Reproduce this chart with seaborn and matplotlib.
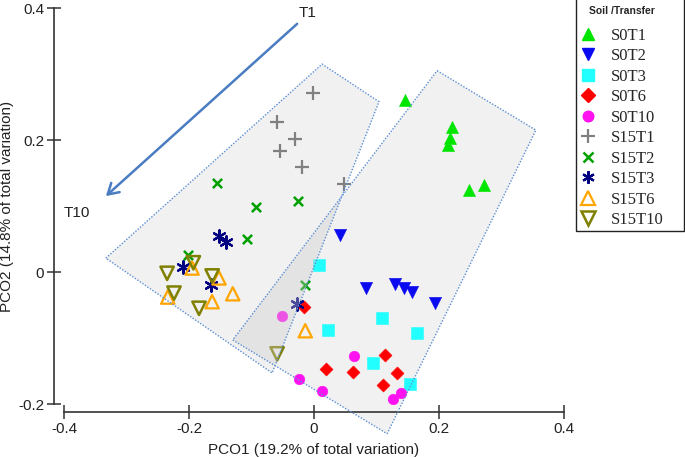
import matplotlib
matplotlib.use("Agg")
import matplotlib.pyplot as plt
import numpy as np
import pandas as pd
import seaborn as sns
from matplotlib.patches import Polygon, Rectangle
from matplotlib.lines import Line2D

# ---------------- data ----------------
group_names = ["S0T1", "S0T2", "S0T3", "S0T6", "S0T10",
               "S15T1", "S15T2", "S15T3", "S15T6", "S15T10"]

s0t1_x = [0.146, 0.221, 0.218, 0.214, 0.248, 0.272]
s0t1_y = [0.261, 0.220, 0.203, 0.192, 0.124, 0.132]
s0t2_x = [0.042, 0.083, 0.130, 0.144, 0.157, 0.194]
s0t2_y = [0.056, -0.024, -0.018, -0.024, -0.030, -0.047]
s0t3_x = [0.008, 0.109, 0.022, 0.165, 0.094, 0.154]
s0t3_y = [0.011, -0.070, -0.088, -0.093, -0.138, -0.170]
s0t6_x = [-0.016, 0.114, 0.019, 0.062, 0.133, 0.110]
s0t6_y = [-0.053, -0.126, -0.147, -0.152, -0.153, -0.171]
s0t10_x = [-0.051, 0.064, -0.024, 0.013, 0.126, 0.139]
s0t10_y = [-0.066, -0.128, -0.162, -0.180, -0.192, -0.184]
s15t1_x = [-0.002, -0.059, -0.030, -0.054, -0.019, 0.048]
s15t1_y = [0.271, 0.227, 0.202, 0.183, 0.159, 0.133]
s15t2_x = [-0.155, -0.093, -0.026, -0.107, -0.202, -0.014]
s15t2_y = [0.135, 0.099, 0.108, 0.050, 0.026, -0.020]
s15t3_x = [-0.152, -0.141, -0.210, -0.165, -0.027]
s15t3_y = [0.055, 0.045, 0.008, -0.020, -0.048]
s15t6_x = [-0.195, -0.152, -0.130, -0.163, -0.234, -0.014]
s15t6_y = [0.006, -0.009, -0.033, -0.045, -0.038, -0.089]
s15t10_x = [-0.193, -0.235, -0.163, -0.224, -0.184, -0.059]
s15t10_y = [0.014, -0.002, -0.006, -0.032, -0.055, -0.124]

# hand-drawn group outlines (data units)
hull_s15 = [(-0.333, 0.021), (0.013, 0.315), (0.104, 0.258), (-0.067, -0.153)]
hull_s0 = [(0.197, 0.305), (0.355, 0.215), (0.117, -0.245), (-0.130, -0.103)]

# transfer arrow T1 -> T10
arrow_start = (-0.027, 0.376)
arrow_end = (-0.333, 0.115)
label_t1 = ("T1", -0.010, 0.392)
label_t10 = ("T10", -0.379, 0.089)

x_ticks = [-0.4, -0.2, 0.0, 0.2, 0.4]
x_tick_labels = ["-0.4", "-0.2", "0", "0.2", "0.4"]
y_ticks = [-0.2, 0.0, 0.2, 0.4]
y_tick_labels = ["-0.2", "0", "0.2", "0.4"]
x_title = "PCO1 (19.2% of total variation)"
y_title = "PCO2 (14.8% of total variation)"
legend_title = "Soil /Transfer"

xs = [s0t1_x, s0t2_x, s0t3_x, s0t6_x, s0t10_x, s15t1_x, s15t2_x, s15t3_x, s15t6_x, s15t10_x]
ys = [s0t1_y, s0t2_y, s0t3_y, s0t6_y, s0t10_y, s15t1_y, s15t2_y, s15t3_y, s15t6_y, s15t10_y]
df = pd.concat([pd.DataFrame({"PCO1": x, "PCO2": y, "group": g})
                for g, x, y in zip(group_names, xs, ys)], ignore_index=True)

# ---------------- styles ----------------
styles = {
    "S0T1":   dict(marker="^", color="#00e600", s=76, filled=True),
    "S0T2":   dict(marker="v", color="#0a0af0", s=78, filled=True),
    "S0T3":   dict(marker="s", color="#22ffff", s=64, filled=True),
    "S0T6":   dict(marker="D", color="#ff0000", s=44, filled=True),
    "S0T10":  dict(marker="o", color="#ff11f0", s=58, filled=True),
    "S15T1":  dict(marker="+", color="#808080", s=92, filled=None, lw=1.6),
    "S15T2":  dict(marker="x", color="#00a000", s=44, filled=None, lw=1.8),
    "S15T3":  dict(marker=(6, 2, 0), color="#000080", s=80, filled=None, lw=1.6),
    "S15T6":  dict(marker="^", color="#ffa500", s=92, filled=False, lw=1.6),
    "S15T10": dict(marker="v", color="#808000", s=92, filled=False, lw=1.8),
}

sns.set_style("ticks")
plt.rcParams["font.family"] = ["Liberation Sans", "DejaVu Sans"]

fig = plt.figure(figsize=(6.85, 4.58), dpi=100)
ax = fig.add_axes([64 / 685, 54 / 458, 500 / 685, 396 / 458])

edge_col = "#5a8ed4"
for hull in (hull_s15, hull_s0):
    ax.add_patch(Polygon(hull, closed=True, facecolor="#f1f1f1", edgecolor="none",
                         zorder=1, clip_on=False))
    ax.add_patch(Polygon(hull, closed=True, facecolor="none", edgecolor=edge_col,
                         linestyle=(0, (1, 1.2)), linewidth=1.0, zorder=5, clip_on=False))

for g in group_names:
    st = styles[g]
    sub = df[df["group"] == g]
    if st["filled"] is True:
        sns.scatterplot(data=sub, x="PCO1", y="PCO2", marker=st["marker"], s=st["s"],
                        color=st["color"], edgecolor=st["color"], linewidth=0.4,
                        ax=ax, legend=False, zorder=3)
    elif st["filled"] is False:
        sns.scatterplot(data=sub, x="PCO1", y="PCO2", marker=st["marker"], s=st["s"],
                        facecolors="none", edgecolor=st["color"], linewidth=st["lw"],
                        ax=ax, legend=False, zorder=3)
    else:
        sns.scatterplot(data=sub, x="PCO1", y="PCO2", marker=st["marker"], s=st["s"],
                        color=st["color"], linewidth=st["lw"],
                        ax=ax, legend=False, zorder=3)

# overlap region shading drawn over the points
overlay = Polygon(hull_s0, closed=True, facecolor="#cccccc", edgecolor="none",
                  alpha=0.36, zorder=4)
ax.add_patch(overlay)
clip_patch = Polygon(hull_s15, closed=True, transform=ax.transData)
overlay.set_clip_path(clip_patch)

ax.annotate("", xy=arrow_end, xytext=arrow_start,
            arrowprops=dict(arrowstyle="->,head_length=0.75,head_width=0.45",
                            color="#4a7cc2", lw=1.8, mutation_scale=10,
                            shrinkA=0, shrinkB=0),
            annotation_clip=False)
for txt, tx, ty in (label_t1, label_t10):
    ax.text(tx, ty, txt, fontsize=11, color="#222222", ha="center", va="center",
            clip_on=False)

ax.set_xlim(-0.4, 0.4)
ax.set_ylim(-0.2, 0.4)
ax.set_xticks(x_ticks)
ax.set_xticklabels(x_tick_labels)
ax.set_yticks(y_ticks)
ax.set_yticklabels(y_tick_labels)
ax.set_xlabel(x_title, fontsize=11, color="#222222")
ax.set_ylabel(y_title, fontsize=11, color="#222222")
ax.xaxis.set_label_coords(0.5, -0.098)
ax.yaxis.set_label_coords(-0.1, 0.5)

for side in ("top", "right"):
    ax.spines[side].set_visible(False)
ax.spines["left"].set_position(("outward", 7.2))
ax.spines["bottom"].set_position(("outward", 5.8))
for side in ("left", "bottom"):
    ax.spines[side].set_linewidth(1.2)
    ax.spines[side].set_color("#333333")
ax.tick_params(direction="inout", length=10, width=1.1, color="#333333",
               labelsize=11, labelcolor="#222222", pad=2)
ax.patch.set_alpha(0)

# legend
handles = []
for g in group_names:
    st = styles[g]
    ms = np.sqrt(st["s"])
    if st["filled"] is True:
        h = Line2D([], [], linestyle="none", marker=st["marker"], markersize=ms,
                   color=st["color"], markeredgecolor=st["color"])
    elif st["filled"] is False:
        h = Line2D([], [], linestyle="none", marker=st["marker"], markersize=ms,
                   markerfacecolor="none", markeredgecolor=st["color"],
                   markeredgewidth=st["lw"])
    else:
        h = Line2D([], [], linestyle="none", marker=st["marker"], markersize=ms,
                   color=st["color"], markeredgewidth=st["lw"])
    handles.append(h)

fig.add_artist(Rectangle((576 / 685, (458 - 231) / 458), 108 / 685, 233 / 458,
                         transform=fig.transFigure, fill=False,
                         edgecolor="#222222", linewidth=1.0))
leg = ax.legend(handles=handles, labels=group_names, title=legend_title,
                loc="upper left", bbox_to_anchor=(579.7 / 685, 1.0 - 6 / 458),
                bbox_transform=fig.transFigure, frameon=False,
                prop={"family": "Liberation Serif", "size": 12},
                title_fontproperties={"family": "Liberation Sans", "weight": "bold",
                                      "size": 7.5},
                handlelength=1.0, handletextpad=0.87, labelspacing=0.27,
                borderpad=0, borderaxespad=0)
leg._legend_box.sep = 8.5

fig.savefig("out.png", dpi=100)
